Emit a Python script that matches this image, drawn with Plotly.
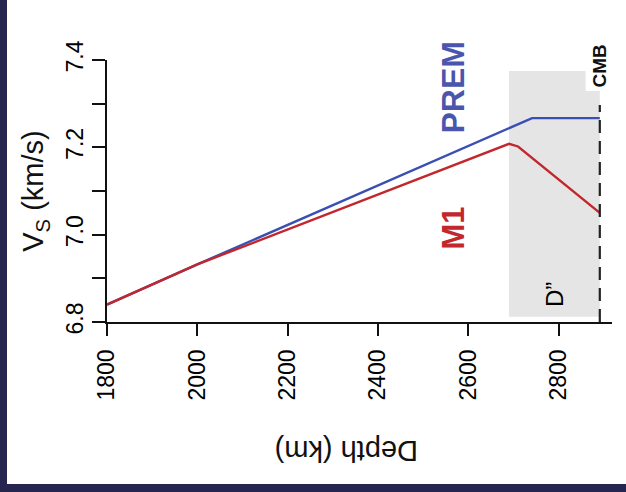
import plotly.graph_objects as go

# Data
depth_prem = [1800, 2000, 2741, 2891]
vs_prem = [6.840, 6.932, 7.267, 7.267]

depth_m1 = [1800, 2000, 2690, 2710, 2891]
vs_m1 = [6.840, 6.932, 7.208, 7.202, 7.050]

xtick_vals = [1800, 2000, 2200, 2400, 2600, 2800]
xtick_text = ["1800", "2000", "2200", "2400", "2600", "2800"]
ytick_vals = [6.8, 6.9, 7.0, 7.1, 7.2, 7.3, 7.4]
ytick_text = ["6.8", " ", "7.0", " ", "7.2", " ", "7.4"]

dpp_top = 2690      # top of D'' layer (km)
cmb_depth = 2891    # core-mantle boundary (km)

FONT = "Liberation Sans, Arial, Helvetica, sans-serif"
BLUE = "#3a4fb3"
RED = "#c1272d"
NAVY = "#25254f"

fig = go.Figure()
fig.add_trace(go.Scatter(x=depth_prem, y=vs_prem, mode="lines",
                         line=dict(color=BLUE, width=2.4), hoverinfo="skip"))
fig.add_trace(go.Scatter(x=depth_m1, y=vs_m1, mode="lines",
                         line=dict(color=RED, width=2.4), hoverinfo="skip"))

# D'' shaded region
fig.add_shape(type="rect", xref="x", yref="y", x0=dpp_top, x1=cmb_depth,
              y0=6.812, y1=7.375, fillcolor="#e5e5e5", line_width=0, layer="below")
# CMB dashed line
fig.add_shape(type="line", xref="x", yref="y", x0=cmb_depth, x1=cmb_depth,
              y0=6.8, y1=7.297, line=dict(color="#222222", width=2.2, dash="13px,8px"))

# navy frame strips (outside the plot)
L, R, T, B = 107, 14, 60, 170
W, H = 626, 492
pw, ph = W - L - R, H - T - B
def px(x):
    return (x - L) / pw
def py(y):
    return (H - B - y) / ph
fig.add_shape(type="rect", xref="paper", yref="paper", x0=px(0), x1=px(7),
              y0=py(H), y1=py(0), fillcolor=NAVY, line_width=0)
fig.add_shape(type="rect", xref="paper", yref="paper", x0=px(0), x1=px(W),
              y0=py(H), y1=py(484), fillcolor=NAVY, line_width=0)

# annotations
fig.add_annotation(x=2567, y=7.338, text="<b>PREM</b>", textangle=-90, showarrow=False,
                   xanchor="center", yanchor="middle",
                   font=dict(family=FONT, size=32, color="#4a56ad"))
fig.add_annotation(x=2567, y=7.015, text="<b>M1</b>", textangle=-90, showarrow=False,
                   xanchor="center", yanchor="middle",
                   font=dict(family=FONT, size=31, color=RED))
fig.add_annotation(x=cmb_depth, y=7.387, text="<b>CMB</b>", textangle=-90, showarrow=False,
                   xanchor="center", yanchor="middle",
                   font=dict(family=FONT, size=19, color="#111111"),
                   bgcolor="white", borderpad=3)
fig.add_annotation(x=2792, y=6.862, text="D\u201d", textangle=-90, showarrow=False,
                   xanchor="center", yanchor="middle",
                   font=dict(family=FONT, size=24, color="#000000"))
fig.add_annotation(xref="paper", yref="paper", x=px(347), y=py(451),
                   xanchor="center", yanchor="middle",
                   text="Depth (km)", textangle=180, showarrow=False,
                   font=dict(family=FONT, size=29, color="#111111"))

fig.update_layout(
    width=W, height=H,
    margin=dict(l=L, r=R, t=T, b=B),
    paper_bgcolor="white", plot_bgcolor="white",
    showlegend=False,
    font=dict(family=FONT, color="#111111"),
)
fig.update_xaxes(range=[1800, 2918], tickvals=xtick_vals, ticktext=xtick_text,
                 tickangle=-90, ticks="outside", ticklen=12, tickwidth=1.8,
                 tickcolor="#111111", showline=True, linecolor="#111111", linewidth=2.4,
                 showgrid=False, zeroline=False, ticklabelstandoff=4,
                 tickfont=dict(size=23, family=FONT, color="#000000"))
fig.update_yaxes(range=[6.8, 7.4], tickvals=ytick_vals, ticktext=ytick_text,
                 tickangle=-90, ticks="outside", ticklen=13, tickwidth=1.8,
                 tickcolor="#111111", showline=True, linecolor="#111111", linewidth=2.4,
                 showgrid=False, zeroline=False,
                 tickfont=dict(size=23, family=FONT, color="#000000"),
                 title=dict(text="V<sub>S</sub> (km/s)", font=dict(size=29, family=FONT),
                            standoff=9))

fig.write_html("out.html", config={"displayModeBar": False})
